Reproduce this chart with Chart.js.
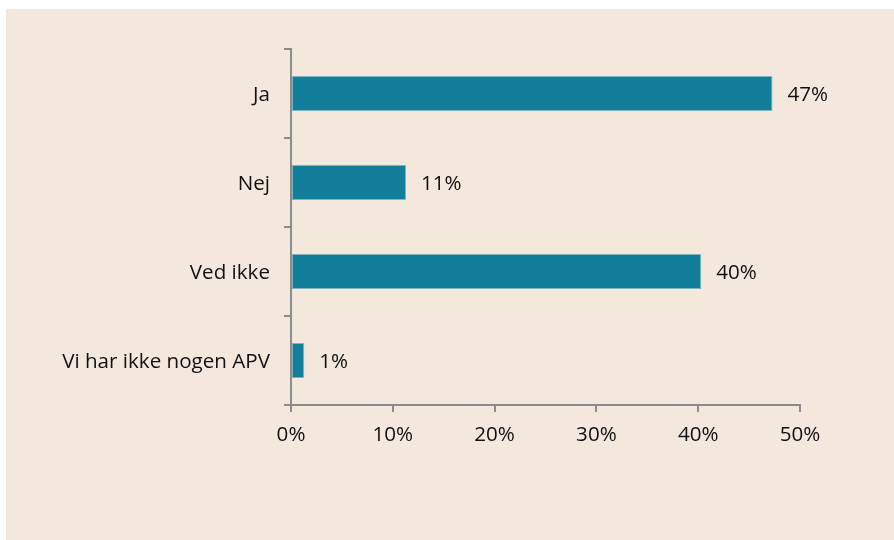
<!DOCTYPE html>
<html>
<head>
<meta charset="utf-8">
<script src="https://cdn.jsdelivr.net/npm/chart.js@4.4.1/dist/chart.umd.min.js"></script>
<style>
    html, body { margin: 0; padding: 0; background: #ffffff; }
    #panel {
        position: absolute;
        left: 6px;
        top: 9px;
        width: 888px;
        height: 531px;
        background: #f4e8dc;
    }
</style>
</head>
<body>
<div id="panel"><canvas id="apvChart" width="888" height="531"></canvas></div>
<script>
const categories = ['Ja', 'Nej', 'Ved ikke', 'Vi har ikke nogen APV'];
const shares = [47.3, 11.3, 40.3, 1.3];
const shareLabels = ['47%', '11%', '40%', '1%'];
const xTicks = [0, 10, 20, 30, 40, 50];

const TEXT_FONT = { family: "'Open Sans', 'Noto Sans', sans-serif", size: 20.6 };
const TEXT_COLOR = '#111111';
const AXIS_GREY = '#8c8c8c';

// Draw the value text just right of each bar
const valueLabels = {
    id: 'valueLabels',
    afterDatasetsDraw(chart) {
        const ctx = chart.ctx;
        const meta = chart.getDatasetMeta(0);
        ctx.save();
        ctx.font = `${TEXT_FONT.size}px ${TEXT_FONT.family}`;
        ctx.fillStyle = TEXT_COLOR;
        ctx.textAlign = 'left';
        ctx.textBaseline = 'middle';
        meta.data.forEach((bar, i) => {
            ctx.fillText(shareLabels[i], bar.x + 15, bar.y + 2);
        });
        ctx.restore();
    }
};

function createApvChart() {
    const ctx = document.getElementById('apvChart').getContext('2d');
    new Chart(ctx, {
        type: 'bar',
        data: {
            labels: categories,
            datasets: [{
                data: shares,
                backgroundColor: '#127e9a',
                borderColor: '#7fb4c4',
                borderWidth: 1,
                borderSkipped: false,
                barPercentage: 0.393,
                categoryPercentage: 1
            }]
        },
        options: {
            indexAxis: 'y',
            responsive: false,
            animation: false,
            layout: {
                padding: { top: 40, right: 94, bottom: 0, left: 0 }
            },
            plugins: {
                legend: { display: false },
                tooltip: { enabled: false }
            },
            scales: {
                x: {
                    min: 0,
                    max: 50,
                    afterBuildTicks: (scale) => {
                        scale.ticks = xTicks.map(v => ({ value: v }));
                    },
                    afterFit: (scale) => { scale.height = 135; },
                    ticks: {
                        callback: (v) => v + '%',
                        color: TEXT_COLOR,
                        font: TEXT_FONT,
                        padding: 11,
                        maxRotation: 0
                    },
                    grid: {
                        drawOnChartArea: false,
                        drawTicks: true,
                        tickLength: 7,
                        color: AXIS_GREY,
                        lineWidth: 2
                    },
                    border: { display: true, color: AXIS_GREY, width: 2 }
                },
                y: {
                    afterFit: (scale) => { scale.width = 285; },
                    ticks: {
                        color: TEXT_COLOR,
                        font: TEXT_FONT,
                        padding: 14,
                        labelOffset: 2
                    },
                    grid: {
                        drawOnChartArea: false,
                        drawTicks: true,
                        tickLength: 7,
                        color: AXIS_GREY,
                        lineWidth: 2
                    },
                    border: { display: true, color: AXIS_GREY, width: 2 }
                }
            }
        },
        plugins: [valueLabels]
    });
}

window.addEventListener('load', createApvChart);
</script>
</body>
</html>
